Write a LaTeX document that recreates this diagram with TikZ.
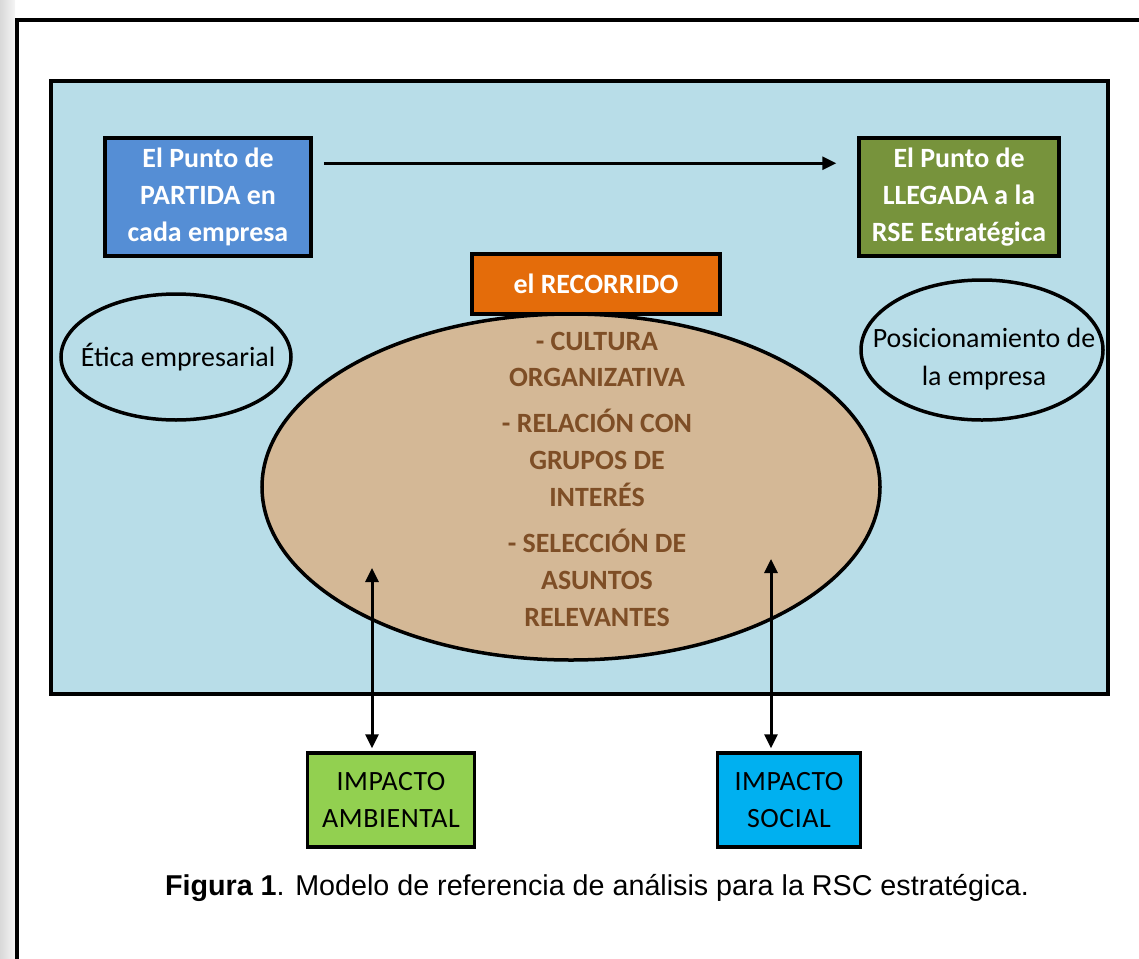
\documentclass[tikz,border=0pt]{standalone}
\usepackage{fontspec}
\setmainfont{Carlito}
\newfontfamily\arialfont{Liberation Sans}
\usetikzlibrary{arrows.meta,shapes.geometric}

\definecolor{FONDO}{HTML}{B8DDE8}
\definecolor{AZUL}{HTML}{558ED5}
\definecolor{OLIVA}{HTML}{77933C}
\definecolor{NARANJA}{HTML}{E46C0A}
\definecolor{TIERRA}{HTML}{D4B896}
\definecolor{CAFE}{HTML}{7E4E26}
\definecolor{LIMA}{HTML}{92D050}
\definecolor{CELESTE}{HTML}{00B0F0}

\begin{document}
\begin{tikzpicture}[x=1bp, y=-1bp,
    caja/.style={draw=black, line width=3.5bp, inner sep=0pt, align=center,
        font=\fontsize{28}{37.5}\selectfont},
    ovalo/.style={draw=black, line width=3.5bp, ellipse, inner sep=0pt},
    texto/.style={align=center, font=\fontsize{28}{37.5}\selectfont},
    flecha/.style={line width=3bp, -{Triangle[length=14bp,width=13bp]}},
    doble/.style={line width=3bp, {Triangle[length=14bp,width=13bp]}-{Triangle[length=14bp,width=13bp]}}]
    \useasboundingbox (0,0) rectangle (1139,959);
    % \fill[white] (0,0) rectangle (1139,959);

    % sombra y marco exterior
    \shade[left color=gray!30, right color=gray!8] (0,0) rectangle (15,959);
    \draw[black, line width=4bp] (17,959) -- (17,20) -- (1139,20);

    % fondo azul claro
    \draw[black, line width=4bp, fill=FONDO] (51,81) rectangle (1108,694);

    % ovalos
    \node[ovalo, fill=TIERRA, minimum width=618bp, minimum height=346bp] (camino) at (571,487) {};
    \node[ovalo, minimum width=230bp, minimum height=126bp] (etica) at (176,357) {};
    \node[texto] (eticatxt) at (178,357) {Ética empresarial};
    \node[ovalo, minimum width=242bp, minimum height=140bp] (posicion) at (982,350) {};
    \node[texto] (posiciontxt) at (984,359) {Posicionamiento de\\la empresa};

    \node[texto, text=CAFE, font=\bfseries\fontsize{28}{37}\selectfont] (temas) at (597,479)
        {- CULTURA\\ORGANIZATIVA\\[9bp]- RELACIÓN CON\\GRUPOS DE\\INTERÉS\\[9bp]- SELECCIÓN DE\\ASUNTOS\\RELEVANTES};

    % cajas superiores
    \node[caja, fill=AZUL, text=white, font=\bfseries\fontsize{28}{37.5}\selectfont,
        minimum width=206bp, minimum height=118bp] (partida) at (208,197)
        {El Punto de\\PARTIDA en\\cada empresa};
    \node[caja, fill=OLIVA, text=white, font=\bfseries\fontsize{28}{37.5}\selectfont,
        minimum width=200bp, minimum height=118bp] (llegada) at (959,197)
        {El Punto de\\LLEGADA a la\\RSE Estratégica};
    \node[caja, fill=NARANJA, text=white, font=\bfseries\fontsize{28}{37.5}\selectfont,
        minimum width=248bp, minimum height=60bp] (recorrido) at (596,284) {el RECORRIDO};

    \draw[flecha, shorten <=11bp, shorten >=21bp]
        ([yshift=-27bp]partida.north east) -- ([yshift=-27bp]llegada.north west);

    % cajas de impacto
    \node[caja, fill=LIMA, minimum width=167bp, minimum height=94bp,
        font=\fontsize{28}{37}\selectfont\addfontfeatures{LetterSpace=2}] (ambiental) at (391,800)
        {IMPACTO\\AMBIENTAL};
    \node[caja, fill=CELESTE, minimum width=143bp, minimum height=94bp,
        font=\fontsize{28}{37}\selectfont\addfontfeatures{LetterSpace=2}] (social) at (789,800)
        {IMPACTO\\SOCIAL};

    \coordinate (izq) at (372,568);
    \coordinate (der) at (771,559);
    \draw[doble, shorten >=3bp] (izq) -- (izq |- ambiental.north);
    \draw[doble, shorten >=3bp] (der) -- (der |- social.north);

    % pie de figura
    \node[font=\arialfont\fontsize{28.8}{34}\selectfont] (pie) at (597,888)
        {\textbf{Figura 1}. Modelo de referencia de análisis para la RSC estratégica.};
\end{tikzpicture}
\end{document}
